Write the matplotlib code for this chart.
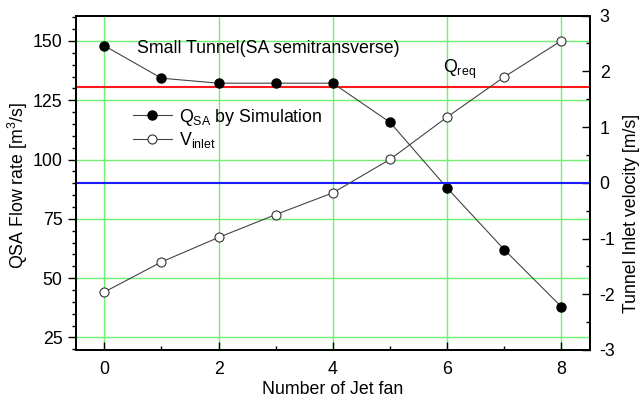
import matplotlib
matplotlib.use("Agg")
import matplotlib.pyplot as plt
from matplotlib.ticker import MultipleLocator

plt.rcParams['font.family'] = ['Liberation Sans', 'DejaVu Sans']
plt.rcParams['mathtext.fontset'] = 'custom'
plt.rcParams['mathtext.rm'] = 'Liberation Sans'
plt.rcParams['mathtext.it'] = 'Liberation Sans:italic'
plt.rcParams['axes.unicode_minus'] = False

FS = 12.8

# Data
jet_fans = [0, 1, 2, 3, 4, 5, 6, 7, 8]
q_sa = [148.0, 134.3, 132.2, 132.2, 132.2, 115.7, 88.0, 62.0, 37.9]
v_inlet = [-1.96, -1.42, -0.98, -0.57, -0.18, 0.42, 1.18, 1.90, 2.55]
q_req = 130.7
v_zero = 0.0

fig = plt.figure(figsize=(6.42, 4.0), dpi=100)
ax = fig.add_axes([0.118, 0.125, 0.801, 0.836])
ax2 = ax.twinx()

# Grid
ax.grid(True, which='major', color='#70f070', linewidth=1.0, zorder=0)
ax.set_axisbelow(True)

# Reference lines
ax.axhline(q_req, color='#ff1a1a', linewidth=1.5, zorder=2)
ax2.axhline(v_zero, color='#1a1aff', linewidth=1.5, zorder=2)

# Series
l1, = ax.plot(jet_fans, q_sa, color='#444444', linewidth=0.8, marker='o',
              markersize=6.5, markerfacecolor='black', markeredgecolor='black',
              zorder=3, label=r'Q$_{\mathrm{SA}}$ by Simulation')
l2, = ax2.plot(jet_fans, v_inlet, color='#444444', linewidth=0.8, marker='o',
               markersize=6.5, markerfacecolor='white', markeredgecolor='#333333',
               markeredgewidth=0.8, zorder=3, label=r'V$_{\mathrm{inlet}}$')

ax.set_xlim(-0.5, 8.5)
ax.set_ylim(19.7, 160.7)
ax2.set_ylim(-3, 3)

ax.xaxis.set_major_locator(MultipleLocator(2))
ax.xaxis.set_minor_locator(MultipleLocator(1))
ax.yaxis.set_major_locator(MultipleLocator(25))
ax.yaxis.set_minor_locator(MultipleLocator(5))
ax2.yaxis.set_major_locator(MultipleLocator(1))
ax2.yaxis.set_minor_locator(MultipleLocator(0.5))

ax.tick_params(axis='x', which='both', direction='in', top=False,
               labelsize=FS, pad=8)
ax.tick_params(axis='x', which='major', length=6, width=1)
ax.tick_params(axis='x', which='minor', length=3, width=1)
ax.tick_params(axis='y', which='both', direction='out', labelsize=FS)
ax.tick_params(axis='y', which='major', length=6, width=1)
ax.tick_params(axis='y', which='minor', length=3, width=1)
ax2.tick_params(axis='y', which='both', direction='in', labelsize=FS, pad=7)
ax2.tick_params(axis='y', which='major', length=6, width=1)
ax2.tick_params(axis='y', which='minor', length=3, width=1)

for a in (ax, ax2):
    for s in a.spines.values():
        s.set_linewidth(1.3)

# Axis titles
fig.text(333 / 642, 1 - 389 / 400, 'Number of Jet fan', fontsize=FS,
         ha='center', va='center')
fig.text(18 / 642, 1 - 185 / 400, r'QSA Flow rate [m$^3$/s]', fontsize=FS,
         ha='center', va='center', rotation=90)
fig.text(632 / 642, 1 - 213 / 400, 'Tunnel Inlet velocity [m/s]', fontsize=FS,
         ha='center', va='center', rotation=90)

# Annotations
ax.text(0.58, 147, 'Small Tunnel(SA semitransverse)', fontsize=FS,
        va='center', ha='left')
ax.text(5.92, 138.0, r'Q$_{\mathrm{req}}$', fontsize=FS, va='center', ha='left')

ax.legend(handles=[l1, l2], loc='upper left', bbox_to_anchor=(0.111, 0.728),
          frameon=False, fontsize=FS, handlelength=2.2, handletextpad=0.4,
          labelspacing=0.15, borderaxespad=0, borderpad=0)

fig.savefig('out.png', dpi=100)
